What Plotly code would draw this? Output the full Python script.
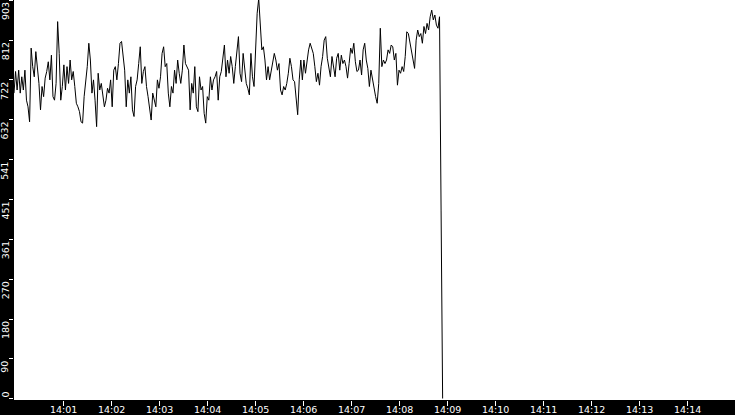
import pandas as pd
import plotly.graph_objects as go

# --- data ---
values_a = [692,741,699,744,692,729,699,744,676,661,627,794,752,729,786,752,714,654,707,684,
            726,741,763,722,778,684,676,714,854,782,676,707,756,699,752,714,767,722,741,707,
            669,661,650,627,624,684,718]
values_b = [752,805,767,692,722,676,616,737,699,714,684,661,676,703,692,722,661,744,752,722,
            759,805,809,775,744,661,722,692,729,654,639,707,722,759,797,714,741,752,707,684,
            654,631,692,676,661,722,703]
values_c = [729,782,797,752,759,692,661,707,692,744,714,767,737,714,744,801,759,752,744,654,
            714,692,752,661,650,729,699,707,646,624,684,676,729,699,722,729,741,676,729,741,
            778,801,729,767,737,775,752,714]
values_d = [752,782,820,737,718,782,744,714,703,688,782,729,707,782,873,906,835,790,797,767,
            722,752,722,744,767,782,767,744,759,699,688,707,699,714,737,771,752,722,718,676,
            643,722,767,722,767,737,767,790]
values_e = [805,790,782,752,718,737,710,752,775,812,820,771,752,729,775,756,729,771,782,744,
            778,759,767,752,726,759,794,782,805,763,741,744,767,733,790,805,767,748,707,744,
            722,699,684,669,714,839,752,767,759]
values_f = [767,790,782,801,797,767,782,710,744,737,752,741,775,831,827,805,790,771,748,812,
            835,820,827,805,843,827,850,835,865,880,858,869,846,839,865]
values_drop = [427, 0]

series = values_a + values_b + values_c + values_d + values_e + values_f + values_drop
start_time = "2024-01-01 13:59:58"
sample_period = "1950ms"
times = pd.date_range(start=start_time, periods=len(series), freq=sample_period)

x_range = ["2024-01-01 13:59:58", "2024-01-01 14:15:00"]
x_tick_labels = ["14:01", "14:02", "14:03", "14:04", "14:05", "14:06", "14:07",
                 "14:08", "14:09", "14:10", "14:11", "14:12", "14:13", "14:14"]
x_tick_vals = [pd.Timestamp("2024-01-01 " + t) for t in x_tick_labels]

y_ticks = [0, 90, 180, 270, 361, 451, 541, 632, 722, 812, 903]
y_range = [-3.4, 903]

FONT = "DejaVu Sans"

fig = go.Figure()
fig.add_trace(go.Scatter(
    x=times, y=series, mode="lines",
    line=dict(color="black", width=1),
    hoverinfo="skip", showlegend=False,
))

annotations = []
for v in y_ticks:
    annotations.append(dict(
        x=0, xref="paper", y=v, yref="y",
        text=str(v), showarrow=False, textangle=-90,
        xanchor="center", xshift=-9,
        yanchor="bottom" if v == 0 else "top",
        yshift=0 if v == 0 else -1,
        font=dict(family=FONT, size=9.5, color="white"),
        borderpad=0,
    ))
for tv, tl in zip(x_tick_vals, x_tick_labels):
    annotations.append(dict(
        x=tv, xref="x", y=0, yref="paper",
        text=tl, showarrow=False,
        xanchor="center", yanchor="bottom", yshift=-15.5,
        font=dict(family=FONT, size=9.5, color="white"),
        borderpad=0,
    ))

fig.update_layout(
    width=735, height=415,
    margin=dict(l=14, r=0, t=0, b=15, pad=0),
    paper_bgcolor="black", plot_bgcolor="white",
    showlegend=False,
    annotations=annotations,
    xaxis=dict(
        type="date", range=x_range,
        tickvals=x_tick_vals, showticklabels=False,
        ticks="outside", ticklen=5, tickcolor="white", tickwidth=1,
        showgrid=False, zeroline=False, showline=False,
        automargin=False,
    ),
    yaxis=dict(
        range=y_range, tickvals=y_ticks,
        showticklabels=False,
        ticks="outside", ticklen=4, tickcolor="white", tickwidth=1,
        showgrid=False, zeroline=False, showline=False,
        automargin=False,
    ),
)

fig.write_html(
    "out.html",
    config={"displayModeBar": False},
    post_script="document.body.style.margin='0';document.body.style.padding='0';"
                "document.body.style.overflow='hidden';document.body.style.background='black';",
)
